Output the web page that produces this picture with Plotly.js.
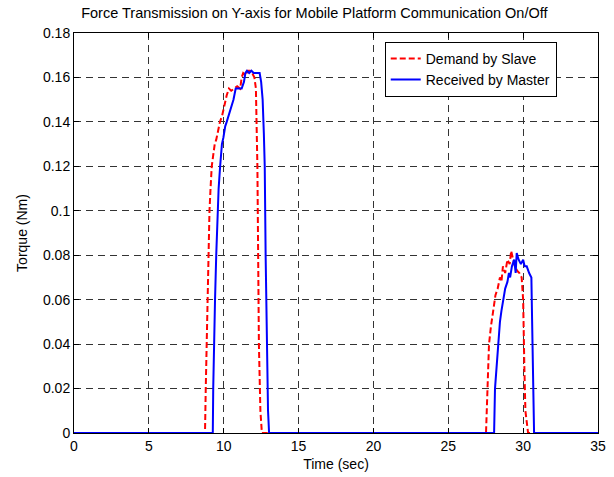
<!DOCTYPE html>
<html>
<head>
<meta charset="utf-8">
<script src="https://cdn.plot.ly/plotly-3.0.1.min.js"></script>
<style>html,body{margin:0;padding:0;background:#fff;}#chart{width:614px;height:477px;}</style>
</head>
<body>
<div id="chart"></div>
<script>
const slaveTime = [0, 8.75, 8.8, 8.85, 8.92, 8.97, 9.05, 9.12, 9.2, 9.3, 9.4, 9.5, 9.6, 9.75, 9.9, 10.05, 10.2, 10.35, 10.5, 10.7, 10.9, 11.1, 11.2, 11.3, 11.45, 11.6, 11.75, 11.9, 12.05, 12.15, 12.2, 12.25, 12.3, 12.35, 12.45, 12.55,
  27.52, 27.6, 27.72, 27.85, 27.95, 28.05, 28.15, 28.3, 28.45, 28.55, 28.65, 28.8, 28.95, 29.1, 29.2, 29.3, 29.45, 29.6, 29.75, 29.9, 30.0, 30.08, 30.15, 30.33, 35];
const slaveTorque = [0, 0, 0.02, 0.04, 0.06, 0.08, 0.10, 0.11, 0.12, 0.125, 0.13, 0.132, 0.136, 0.14, 0.143, 0.148, 0.152, 0.155, 0.154, 0.155, 0.156, 0.155, 0.16, 0.162, 0.161, 0.163, 0.163, 0.162, 0.16, 0.155, 0.14, 0.12, 0.08, 0.04, 0.01, 0,
  0, 0.02, 0.04, 0.048, 0.052, 0.058, 0.062, 0.065, 0.07, 0.068, 0.075, 0.072, 0.078, 0.076, 0.082, 0.079, 0.075, 0.073, 0.072, 0.07, 0.06, 0.03, 0.01, 0, 0];

const masterTime = [0, 9.27, 9.3, 9.35, 9.42, 9.5, 9.58, 9.66, 9.76, 9.88, 9.98, 10.1, 10.2, 10.35, 10.5, 10.65, 10.8, 11.0, 11.2, 11.35, 11.45, 11.55, 11.7, 11.85, 12.0, 12.2, 12.4, 12.5, 12.6, 12.68, 12.74, 12.8, 12.88, 12.96, 13.03,
  28.06, 28.12, 28.22, 28.32, 28.45, 28.55, 28.66, 28.8, 28.95, 29.05, 29.13, 29.25, 29.4, 29.5, 29.57, 29.7, 29.85, 30.0, 30.1, 30.24, 30.4, 30.55, 30.6, 30.65, 30.73, 35];
const masterTorque = [0, 0, 0.02, 0.04, 0.06, 0.08, 0.10, 0.11, 0.12, 0.13, 0.133, 0.138, 0.14, 0.143, 0.147, 0.15, 0.155, 0.155, 0.155, 0.158, 0.162, 0.163, 0.162, 0.163, 0.162, 0.162, 0.162, 0.158, 0.15, 0.135, 0.12, 0.08, 0.04, 0.01, 0,
  0, 0.02, 0.03, 0.04, 0.05, 0.055, 0.06, 0.065, 0.068, 0.072, 0.07, 0.075, 0.078, 0.072, 0.081, 0.078, 0.076, 0.078, 0.075, 0.075, 0.072, 0.07, 0.05, 0.02, 0, 0];

const xTicks = [0, 5, 10, 15, 20, 25, 30, 35];
const yTicks = [0, 0.02, 0.04, 0.06, 0.08, 0.1, 0.12, 0.14, 0.16, 0.18];
const yTickText = ['0', '0.02', '0.04', '0.06', '0.08', '0.1', '0.12', '0.14', '0.16', '0.18'];

const font = {family: 'Liberation Sans, Arial, sans-serif', size: 14, color: '#000'};

const traces = [
  {x: slaveTime, y: slaveTorque, type: 'scatter', mode: 'lines', name: 'Demand by Slave',
   line: {color: '#ff0000', width: 2, dash: '6px,3px'}},
  {x: masterTime, y: masterTorque, type: 'scatter', mode: 'lines', name: 'Received by Master',
   line: {color: '#0000ff', width: 2}}
];

const axisCommon = {
  showline: true, linecolor: '#000', linewidth: 1, mirror: 'ticks',
  ticks: 'inside', ticklen: 5, tickcolor: '#000',
  showgrid: true, gridcolor: '#333', griddash: '7px,5px', gridwidth: 1,
  zeroline: false, tickfont: font
};

const layout = {
  width: 614, height: 477,
  margin: {l: 74, r: 16, t: 33, b: 44},
  paper_bgcolor: '#fff', plot_bgcolor: '#fff',
  font: font,
  title: {text: 'Force Transmission on Y-axis for Mobile Platform Communication On/Off',
          font: {family: 'Liberation Sans, Arial, sans-serif', size: 14.5, color: '#000'},
          x: 0.512, xanchor: 'center', y: 0.972, yanchor: 'middle'},
  xaxis: Object.assign({}, axisCommon, {
    range: [0, 35], tickvals: xTicks, ticktext: xTicks.map(String),
    title: {text: 'Time (sec)', font: font, standoff: 6}
  }),
  yaxis: Object.assign({}, axisCommon, {
    range: [0, 0.18], tickvals: yTicks, ticktext: yTickText,
    title: {text: 'Torque (Nm)', font: font, standoff: 12}
  }),
  legend: {x: 0.593, y: 0.978, xanchor: 'left', yanchor: 'top',
           bgcolor: '#fff', bordercolor: '#000', borderwidth: 1,
           font: font, tracegroupgap: 0},
  showlegend: true
};

Plotly.newPlot('chart', traces, layout, {displayModeBar: false, staticPlot: true});
</script>
</body>
</html>
